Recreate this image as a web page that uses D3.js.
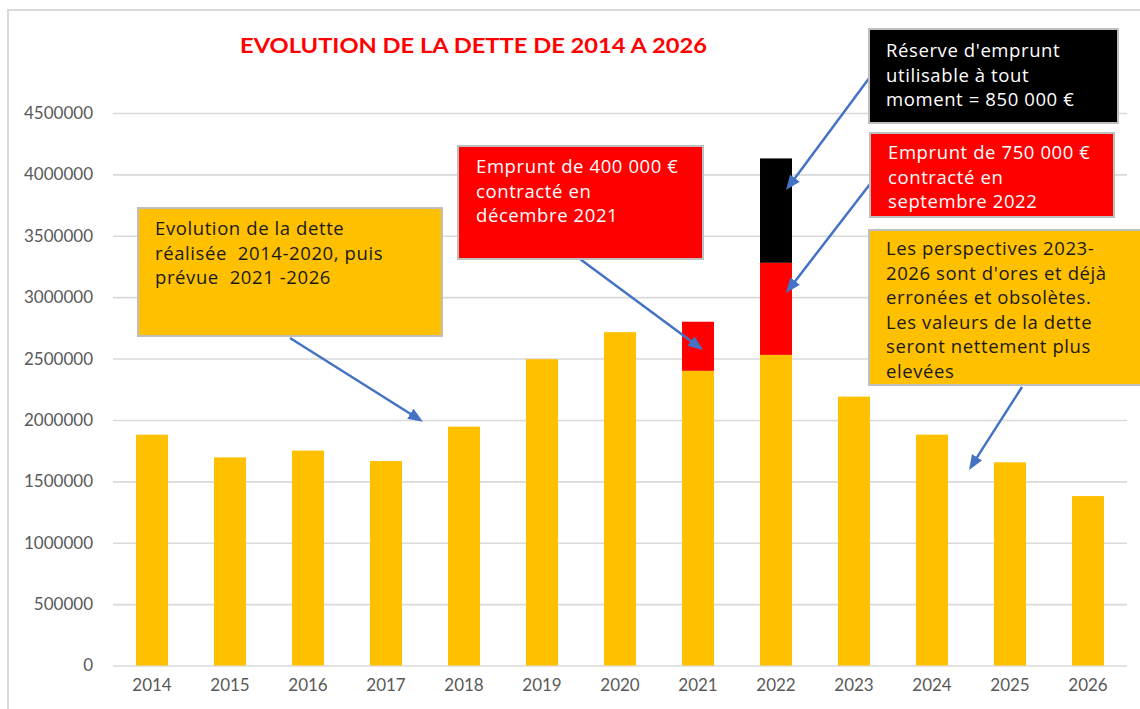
<!DOCTYPE html>
<html>
<head>
<meta charset="utf-8">
<script src="https://cdn.jsdelivr.net/npm/d3@7"></script>
<style>
body { margin: 0; background: #fff; }
text { font-family: Lato, "Open Sans", sans-serif; }
</style>
</head>
<body>
<svg id="chart" width="1140" height="709"></svg>
<script>
// données
const years = ['2014', '2015', '2016', '2017', '2018', '2019', '2020', '2021', '2022', '2023', '2024', '2025', '2026']
const detteBase = [1880000, 1695000, 1750000, 1665000, 1945000, 2495000, 2715000, 2400000, 2530000, 2190000, 1880000, 1655000, 1380000]
const emprunt = [0, 0, 0, 0, 0, 0, 0, 400000, 750000, 0, 0, 0, 0]
const reserve = [0, 0, 0, 0, 0, 0, 0, 0, 850000, 0, 0, 0, 0]
const yTicks = [0, 500000, 1000000, 1500000, 2000000, 2500000, 3000000, 3500000, 4000000, 4500000]
const seriesKeys = ['base', 'emprunt', 'reserve']
const seriesColors = ['#FFC000', '#FF0000', '#000000']

const titre = 'EVOLUTION DE LA DETTE DE 2014 A 2026'

const notes = [
    { box: [138, 208, 304, 128], fill: '#FFC000', color: '#1a1a1a', tx: 155, ty: 235,
      lines: ['Evolution de la dette', 'réalisée  2014-2020, puis', 'prévue  2021 -2026'],
      from: [290, 338], to: { year: '2018', dx: -41, v: 1985000 } },
    { box: [458, 146, 245, 113], fill: '#FF0000', color: '#ffffff', tx: 476, ty: 173,
      lines: ['Emprunt de 400 000 €', 'contracté en', 'décembre 2021'],
      from: [580, 259], to: { year: '2021', dx: 5, v: 2570000 } },
    { box: [869, 29, 249, 94], fill: '#000000', color: '#ffffff', tx: 886, ty: 57,
      lines: ["Réserve d'emprunt", 'utilisable à tout', 'moment = 850 000 €'],
      from: [870, 77], to: { year: '2022', dx: 10, v: 3872000 } },
    { box: [870, 133, 244, 84], fill: '#FF0000', color: '#ffffff', tx: 888, ty: 159,
      lines: ['Emprunt de 750 000 €', 'contracté en', 'septembre 2022'],
      from: [877, 175], to: { year: '2022', dx: 10, v: 3034000 } },
    { box: [869, 230, 290, 155], fill: '#FFC000', color: '#1a1a1a', tx: 886, ty: 255,
      lines: ['Les perspectives 2023-', "2026 sont d'ores et déjà", 'erronées et obsolètes.', 'Les valeurs de la dette', 'seront nettement plus', 'elevées'],
      from: [1022, 387], to: { year: '2024', dx: 37, v: 1593000 } }
]

const svg = d3.select('#chart')

// cadre du graphique
svg.append('rect')
    .attr('x', 8).attr('y', 10)
    .attr('width', 1150).attr('height', 720)
    .attr('fill', '#fff')
    .attr('stroke', '#d9d9d9').attr('stroke-width', 2)

var x = d3.scaleBand().domain(years).range([113, 1127]).paddingInner(0.59).paddingOuter(0.295)
var y = d3.scaleLinear().domain([0, 4500000]).range([665.5, 113])

// grille
svg.append('g')
    .attr('transform', 'translate(113,0)')
    .call(d3.axisLeft(y).tickValues(yTicks).tickSize(-1014).tickFormat(''))
    .call(g => g.select('.domain').remove())
    .call(g => g.selectAll('line').attr('stroke', '#d9d9d9').attr('stroke-width', 1.6))

// étiquettes axe Y
svg.append('g')
    .attr('transform', 'translate(97,0)')
    .call(d3.axisLeft(y).tickValues(yTicks).tickSize(0).tickPadding(4).tickFormat(d3.format('d')))
    .call(g => g.select('.domain').remove())
    .call(g => g.selectAll('text').attr('fill', '#595959').style('font-size', '17px'))

// étiquettes axe X
svg.append('g')
    .attr('transform', 'translate(0,665)')
    .call(d3.axisBottom(x).tickSize(0).tickPadding(14))
    .call(g => g.select('.domain').remove())
    .call(g => g.selectAll('text').attr('fill', '#595959').style('font-size', '17px'))

// barres empilées
var rows = years.map((yr, i) => ({ year: yr, base: detteBase[i], emprunt: emprunt[i], reserve: reserve[i] }))
var stacked = d3.stack().keys(seriesKeys)(rows)

svg.append('g').selectAll('g')
    .data(stacked)
    .enter()
    .append('g')
    .attr('fill', (d, i) => seriesColors[i])
    .selectAll('rect')
    .data(d => d.filter(s => s[1] > s[0]))
    .enter()
    .append('rect')
    .attr('x', d => x(d.data.year))
    .attr('width', x.bandwidth())
    .attr('y', d => y(d[1]))
    .attr('height', d => y(d[0]) - y(d[1]))

// titre
svg.append('text')
    .attr('x', 240).attr('y', 53)
    .attr('textLength', 467).attr('lengthAdjust', 'spacingAndGlyphs')
    .attr('fill', '#FF0000')
    .style('font-size', '21px').style('font-weight', 'bold')
    .text(titre)

// flèche
svg.append('defs').append('marker')
    .attr('id', 'tete')
    .attr('markerUnits', 'userSpaceOnUse')
    .attr('markerWidth', 15).attr('markerHeight', 12)
    .attr('refX', 7).attr('refY', 6)
    .attr('orient', 'auto')
    .append('path')
    .attr('d', 'M0,0 L15,6 L0,12 Z')
    .attr('fill', '#4472C4')

// annotations
notes.forEach(n => {
    var tip = [x(n.to.year) + x.bandwidth() / 2 + n.to.dx, y(n.to.v)]
    var dx = tip[0] - n.from[0], dy = tip[1] - n.from[1]
    var len = Math.sqrt(dx * dx + dy * dy)
    var endX = tip[0] - dx / len * 8, endY = tip[1] - dy / len * 8

    svg.append('line')
        .attr('x1', n.from[0]).attr('y1', n.from[1])
        .attr('x2', endX).attr('y2', endY)
        .attr('stroke', '#4472C4').attr('stroke-width', 2.5)
        .attr('marker-end', 'url(#tete)')

    svg.append('rect')
        .attr('x', n.box[0]).attr('y', n.box[1])
        .attr('width', n.box[2]).attr('height', n.box[3])
        .attr('fill', n.fill)
        .attr('stroke', '#bfbfbf').attr('stroke-width', 2)

    svg.append('text')
        .attr('fill', n.color)
        .style('font-family', '"Open Sans", sans-serif')
        .style('font-size', '18.5px')
        .style('letter-spacing', '0.6px')
        .selectAll('tspan')
        .data(n.lines)
        .enter()
        .append('tspan')
        .attr('x', n.tx)
        .attr('y', (d, i) => n.ty + i * 24.5)
        .style('white-space', 'pre')
        .text(d => d)
})
</script>
</body>
</html>
